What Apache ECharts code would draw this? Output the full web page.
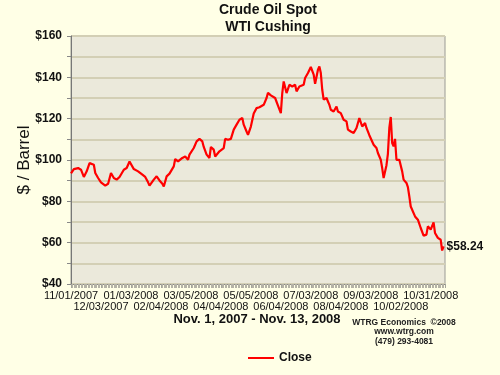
<!DOCTYPE html>
<html>
<head>
<meta charset="utf-8">
<script src="https://cdn.jsdelivr.net/npm/echarts@6.0.0/dist/echarts.min.js"></script>
<style>
  html, body { margin: 0; padding: 0; background: #ffffe6; }
  #chart { width: 500px; height: 375px; }
</style>
</head>
<body>
<div id="chart"></div>
<script>
// WTI Cushing spot close, Nov 1 2007 - Nov 13 2008.
// x is the trading-day number counted from 11/01/2007.
const tradingDay = [
  0, 2, 5, 7, 9, 11, 13, 16, 17, 19, 21, 24, 26, 27, 28, 30, 32, 34, 37, 39,
  41, 42, 44, 47, 50, 52, 54, 55, 58, 60, 62, 64, 65, 67, 69, 72, 73, 75, 78, 80,
  82, 83, 86, 88, 90, 92, 93, 95, 97, 98, 100, 101, 102, 104, 107, 108, 110, 112, 114, 116,
  118, 120, 121, 123, 124, 126, 128, 130, 132, 135, 137, 138, 140, 143, 145, 147, 148, 149, 151, 153,
  155, 157, 158, 160, 163, 164, 166, 168, 170, 171, 173, 174, 175, 176, 177, 179, 181, 182, 184, 186,
  187, 189, 191, 193, 194, 196, 198, 200, 202, 204, 206, 207, 209, 212, 214, 215, 217, 218, 219, 221,
  222, 223, 224, 225, 226, 227, 228, 229, 230, 232, 233, 235, 236, 237, 238, 239, 241, 243, 245, 247,
  249, 250, 252, 254, 255, 257, 259, 260, 261
]
const closeUSD = [
  93.5, 95.6, 96.1, 95.3, 91.8, 94.5, 98.5, 97.7, 93.7, 91.3, 89.2, 87.6, 88.5, 87.6, 93.7, 91.3, 90.5, 91.8, 95.3, 96.1,
  99.3, 98.5, 95.6, 94.5, 92.9, 91.8, 89.2, 87.6, 90.5, 92.1, 90.1, 88.5, 87.2, 92.1, 93.4, 96.9, 100.5, 99.3, 101.0, 101.7,
  100.1, 102.6, 105.8, 109.0, 110.2, 109.0, 106.3, 102.6, 101.0, 106.3, 105.0, 101.7, 101.0, 104.2, 105.8, 110.2, 109.8, 110.2, 114.7, 117.1,
  119.5, 120.3, 117.1, 113.8, 112.2, 116.2, 122.5, 125.1, 125.5, 126.7, 130.0, 132.5, 131.3, 130.0, 126.3, 122.7, 132.4, 138.0, 132.4, 136.4,
  135.6, 136.4, 133.2, 135.6, 136.4, 139.7, 142.1, 145.0, 141.3, 136.9, 143.7, 145.3, 142.1, 134.0, 129.2, 130.0, 126.7, 124.3, 123.5, 125.9,
  123.5, 122.7, 119.5, 118.7, 114.7, 113.8, 113.1, 115.5, 120.3, 116.2, 117.9, 115.5, 112.0, 107.4, 105.8, 103.4, 100.1, 96.1, 91.3, 97.5,
  103.0, 115.5, 120.8, 108.2, 106.6, 110.2, 100.1, 101.0, 100.1, 94.5, 90.5, 88.9, 86.9, 82.4, 77.5, 78.4, 72.7, 71.1, 67.1, 63.4,
  63.9, 67.9, 66.3, 69.8, 64.7, 62.3, 61.4, 56.2, 58.24
]
// ticks every 21 trading days; even ones sit on the upper row, odd ones below
const tickLabels = [
  '11/01/2007', '12/03/2007', '01/03/2008', '02/04/2008', '03/05/2008', '04/04/2008', '05/05/2008',
  '06/04/2008', '07/03/2008', '08/04/2008', '09/03/2008', '10/02/2008', '10/31/2008'
]
const lastLabel = '$58.24'

const FONT = 'Liberation Sans, Arial, sans-serif'
const closeData = tradingDay.map((d, i) => [d, closeUSD[i]])

const tickText = row => v => {
  const i = v / 21
  if (!Number.isInteger(i) || !tickLabels[i] || i % 2 !== row) return ''
  return tickLabels[i]
}

const dayAxis = row => ({
  type: 'value', min: 0, max: 262, interval: 21, position: 'bottom',
  axisLine: { show: row === 0, lineStyle: { color: '#8a8a84' } },
  axisTick: { show: row === 0, length: 4, lineStyle: { color: '#a4a49c' } },
  minorTick: { show: row === 0, splitNumber: 21, length: 4, lineStyle: { color: '#b4b2a6' } },
  splitLine: { show: false },
  axisLabel: {
    fontFamily: FONT, fontSize: 11, color: '#111', margin: row === 0 ? 6 : 17,
    showMinLabel: true, showMaxLabel: false, hideOverlap: false,
    formatter: tickText(row),
  },
})

const chart = echarts.init(document.getElementById('chart'))
chart.setOption({
  backgroundColor: '#ffffe6',
  animation: false,
  title: [
    {
      text: 'Crude Oil Spot\nWTI Cushing', left: 268, top: 2, padding: 0, textAlign: 'center',
      textStyle: { fontFamily: FONT, fontSize: 14, fontWeight: 'bold', color: '#111', lineHeight: 17 },
    },
    {
      text: 'Nov. 1, 2007 - Nov. 13, 2008', left: 257, top: 313, padding: 0, textAlign: 'center',
      textStyle: { fontFamily: FONT, fontSize: 13, fontWeight: 'bold', color: '#111' },
    },
  ],
  graphic: [
    { type: 'text', x: 404, y: 323, style: { text: 'WTRG Economics  ©2008', fontFamily: FONT, fontSize: 8.5, fontWeight: 'bold', fill: '#222', align: 'center', verticalAlign: 'middle' } },
    { type: 'text', x: 404, y: 332, style: { text: 'www.wtrg.com', fontFamily: FONT, fontSize: 8.5, fontWeight: 'bold', fill: '#222', align: 'center', verticalAlign: 'middle' } },
    { type: 'text', x: 404, y: 342, style: { text: '(479) 293-4081', fontFamily: FONT, fontSize: 8.5, fontWeight: 'bold', fill: '#222', align: 'center', verticalAlign: 'middle' } },
  ],
  legend: {
    left: 243, top: 347, itemWidth: 26, itemHeight: 2, itemGap: 6, icon: 'rect',
    textStyle: { fontFamily: FONT, fontSize: 12, fontWeight: 'bold', color: '#111' },
    data: ['Close'],
  },
  grid: {
    left: 71, right: 55, top: 36, bottom: 91,
    show: true, backgroundColor: '#ebe9db', borderColor: '#9a9a94', borderWidth: 1,
  },
  xAxis: [dayAxis(0), dayAxis(1)],
  yAxis: {
    type: 'value', min: 40, max: 160, interval: 10,
    name: '$ / Barrel', nameLocation: 'middle', nameGap: 38, nameMoveOverlap: false,
    nameTextStyle: { fontFamily: FONT, fontSize: 17, color: '#111' },
    axisLine: { show: true, lineStyle: { color: '#777' } },
    axisTick: { show: true, length: 4, lineStyle: { color: '#888' } },
    splitLine: { show: true, lineStyle: { color: '#d3cfb5', width: 2 } },
    axisLabel: {
      fontFamily: FONT, fontSize: 12, fontWeight: 'bold', color: '#111', margin: 9,
      showMinLabel: true,
      formatter: v => v % 20 === 0 ? '$' + v : '',
    },
  },
  series: [{
    name: 'Close', type: 'line', data: closeData, xAxisIndex: 0,
    showSymbol: false, symbol: 'none',
    lineStyle: { color: '#ff0000', width: 2.2 },
    itemStyle: { color: '#ff0000' },
    endLabel: {
      show: true, distance: 3, formatter: lastLabel,
      fontFamily: FONT, fontSize: 12, fontWeight: 'bold', color: '#111',
    },
  }],
})
</script>
</body>
</html>
